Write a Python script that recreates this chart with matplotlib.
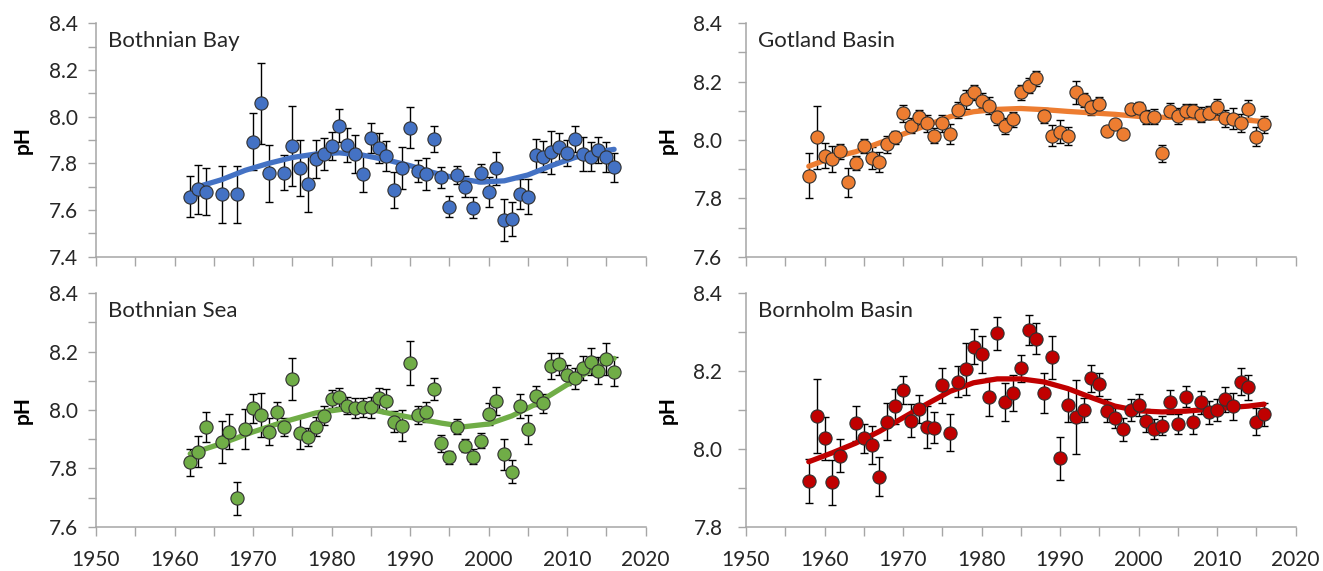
import matplotlib
matplotlib.use("Agg")
import matplotlib.pyplot as plt
from matplotlib.ticker import MultipleLocator, FormatStrFormatter

plt.rcParams["font.family"] = ["Lato", "DejaVu Sans"]

# ---- Bothnian Bay ----
bb_year = [1962, 1963, 1964, 1966, 1968, 1970, 1971, 1972, 1974, 1975, 1976, 1977,
           1978, 1979, 1980, 1981, 1982, 1983, 1984, 1985, 1986, 1987, 1988, 1989,
           1990, 1991, 1992, 1993, 1994, 1995, 1996, 1997, 1998, 1999, 2000, 2001,
           2002, 2003, 2004, 2005, 2006, 2007, 2008, 2009, 2010, 2011, 2012, 2013,
           2014, 2015, 2016]
bb_ph = [7.657, 7.689, 7.679, 7.667, 7.667, 7.893, 8.057, 7.757, 7.760, 7.876, 7.779, 7.711,
         7.819, 7.840, 7.874, 7.961, 7.879, 7.840, 7.753, 7.907, 7.864, 7.833, 7.686, 7.779,
         7.953, 7.767, 7.754, 7.903, 7.740, 7.614, 7.750, 7.700, 7.610, 7.757, 7.679, 7.779,
         7.557, 7.561, 7.669, 7.657, 7.836, 7.829, 7.847, 7.871, 7.846, 7.904, 7.840, 7.829,
         7.857, 7.826, 7.783]
bb_err = [0.089, 0.104, 0.100, 0.122, 0.122, 0.121, 0.175, 0.121, 0.074, 0.171, 0.121, 0.121,
          0.081, 0.070, 0.059, 0.071, 0.074, 0.080, 0.077, 0.064, 0.064, 0.064, 0.076, 0.089,
          0.089, 0.046, 0.068, 0.056, 0.045, 0.044, 0.038, 0.044, 0.046, 0.041, 0.064, 0.071,
          0.089, 0.072, 0.063, 0.074, 0.069, 0.068, 0.091, 0.061, 0.056, 0.057, 0.071, 0.061,
          0.057, 0.064, 0.062]
bb_trend_year = [1963, 1966, 1969, 1972, 1975, 1978, 1981, 1984, 1987, 1990, 1993, 1996,
                 1999, 2002, 2005, 2008, 2011, 2014, 2016]
bb_trend = [7.700, 7.730, 7.770, 7.800, 7.825, 7.840, 7.845, 7.835, 7.815, 7.790, 7.760, 7.735,
            7.720, 7.725, 7.750, 7.790, 7.825, 7.850, 7.860]

# ---- Bothnian Sea ----
bs_year = [1962, 1963, 1964, 1966, 1967, 1968, 1969, 1970, 1971, 1972, 1973, 1974, 1975,
           1976, 1977, 1978, 1979, 1980, 1981, 1982, 1983, 1984, 1985, 1986, 1987, 1988,
           1989, 1990, 1991, 1992, 1993, 1994, 1995, 1996, 1997, 1998, 1999, 2000, 2001,
           2002, 2003, 2004, 2005, 2006, 2007, 2008, 2009, 2010, 2011, 2012, 2013, 2014,
           2015, 2016]
bs_ph = [7.821, 7.857, 7.943, 7.891, 7.926, 7.697, 7.935, 8.006, 7.983, 7.926, 7.992, 7.941, 8.106,
         7.922, 7.909, 7.943, 7.981, 8.038, 8.043, 8.015, 8.006, 8.009, 8.009, 8.040, 8.031, 7.960,
         7.946, 8.162, 7.983, 7.994, 8.072, 7.886, 7.838, 7.943, 7.878, 7.840, 7.895, 7.985, 8.031,
         7.849, 7.789, 8.014, 7.934, 8.048, 8.023, 8.151, 8.157, 8.120, 8.109, 8.143, 8.166, 8.135,
         8.175, 8.131]
bs_err = [0.046, 0.053, 0.051, 0.073, 0.060, 0.056, 0.067, 0.050, 0.075, 0.045, 0.035, 0.030, 0.073,
          0.055, 0.031, 0.033, 0.034, 0.031, 0.034, 0.030, 0.035, 0.033, 0.037, 0.036, 0.040, 0.035,
          0.053, 0.075, 0.030, 0.034, 0.037, 0.029, 0.023, 0.025, 0.023, 0.025, 0.026, 0.038, 0.047,
          0.053, 0.040, 0.040, 0.049, 0.035, 0.033, 0.046, 0.038, 0.034, 0.036, 0.041, 0.045, 0.047,
          0.054, 0.049]
bs_trend_year = [1962, 1966, 1970, 1974, 1978, 1982, 1985, 1988, 1991, 1994, 1997, 2000, 2003,
                 2006, 2009, 2012, 2014, 2016]
bs_trend = [7.850, 7.885, 7.925, 7.960, 7.990, 8.005, 8.002, 7.985, 7.970, 7.955, 7.943, 7.952,
            7.980, 8.020, 8.070, 8.120, 8.150, 8.177]

# ---- Gotland Basin ----
gb_year = list(range(1958, 2017))
gb_ph = [7.877, 8.009, 7.946, 7.934, 7.962, 7.855, 7.922, 7.979, 7.937, 7.926, 7.985, 8.009,
         8.091, 8.049, 8.078, 8.057, 8.015, 8.057, 8.021, 8.103, 8.139, 8.163, 8.135, 8.118,
         8.078, 8.048, 8.071, 8.163, 8.186, 8.211, 8.083, 8.015, 8.029, 8.015, 8.163, 8.137,
         8.112, 8.122, 8.032, 8.055, 8.021, 8.105, 8.111, 8.078, 8.080, 7.954, 8.101, 8.082,
         8.101, 8.101, 8.086, 8.094, 8.112, 8.074, 8.072, 8.059, 8.106, 8.011, 8.054]
gb_err = [0.077, 0.108, 0.043, 0.045, 0.026, 0.050, 0.024, 0.025, 0.038, 0.034, 0.030, 0.023,
          0.029, 0.026, 0.026, 0.030, 0.025, 0.030, 0.033, 0.028, 0.032, 0.025, 0.025, 0.028,
          0.025, 0.029, 0.026, 0.026, 0.025, 0.025, 0.026, 0.035, 0.038, 0.031, 0.040, 0.025,
          0.025, 0.025, 0.015, 0.015, 0.015, 0.020, 0.020, 0.024, 0.025, 0.029, 0.025, 0.027,
          0.022, 0.022, 0.026, 0.023, 0.027, 0.029, 0.036, 0.031, 0.031, 0.032, 0.029]
gb_trend_year = [1958, 1961, 1964, 1967, 1970, 1973, 1976, 1979, 1982, 1985, 1988, 1991, 1994,
                 1997, 2000, 2003, 2006, 2009, 2012, 2016]
gb_trend = [7.910, 7.940, 7.960, 7.990, 8.020, 8.050, 8.080, 8.097, 8.105, 8.108, 8.104, 8.098,
            8.093, 8.088, 8.081, 8.078, 8.077, 8.076, 8.072, 8.063]

# ---- Bornholm Basin ----
bh_year = [1958, 1959, 1960, 1961, 1962] + list(range(1964, 2017))
bh_ph = [7.918, 8.085, 8.027, 7.914, 7.983, 8.066, 8.027, 8.010, 7.929, 8.070, 8.109, 8.151,
         8.073, 8.103, 8.057, 8.055, 8.164, 8.042, 8.173, 8.205, 8.263, 8.243, 8.134, 8.297,
         8.121, 8.143, 8.207, 8.305, 8.283, 8.143, 8.235, 7.976, 8.113, 8.081, 8.100, 8.181,
         8.166, 8.098, 8.079, 8.050, 8.100, 8.113, 8.073, 8.051, 8.060, 8.121, 8.064, 8.134,
         8.068, 8.120, 8.094, 8.100, 8.127, 8.109, 8.173, 8.158, 8.070, 8.089]
bh_err = [0.056, 0.095, 0.056, 0.057, 0.043, 0.045, 0.038, 0.049, 0.049, 0.048, 0.045, 0.036,
          0.043, 0.036, 0.054, 0.041, 0.045, 0.048, 0.040, 0.066, 0.044, 0.047, 0.049, 0.042,
          0.048, 0.046, 0.034, 0.039, 0.040, 0.051, 0.056, 0.055, 0.043, 0.095, 0.032, 0.034,
          0.029, 0.029, 0.025, 0.029, 0.028, 0.028, 0.030, 0.025, 0.025, 0.030, 0.026, 0.027,
          0.030, 0.030, 0.029, 0.029, 0.033, 0.035, 0.034, 0.033, 0.034, 0.029]
bh_trend_year = [1958, 1961, 1964, 1967, 1970, 1973, 1976, 1979, 1982, 1985, 1988, 1991, 1994,
                 1997, 2000, 2003, 2006, 2009, 2012, 2014, 2016]
bh_trend = [7.967, 7.990, 8.015, 8.045, 8.080, 8.115, 8.148, 8.170, 8.180, 8.180, 8.172, 8.155,
            8.132, 8.110, 8.098, 8.095, 8.097, 8.102, 8.107, 8.110, 8.115]

AXIS_GREY = "#a6a6a6"
TEXT = "#262626"

fig = plt.figure(figsize=(13.23, 5.71), dpi=100)


def panel(rect, title, years, ph, err, t_year, t_val, color, ylim, show_x, label_pad, ylab_x):
    ax = fig.add_axes(rect)
    ax.errorbar(years, ph, yerr=err, fmt="none", ecolor="black", elinewidth=1.0,
                capsize=3.2, capthick=1.0, zorder=2)
    ax.plot(t_year, t_val, color=color, lw=3.8, solid_capstyle="round",
            solid_joinstyle="round", zorder=3)
    ax.plot(years, ph, "o", ms=9.5, mfc=color, mec="#303030", mew=0.8, zorder=4)

    ax.set_xlim(1950, 2020)
    ax.set_ylim(*ylim)
    ax.xaxis.set_major_locator(MultipleLocator(10))
    ax.xaxis.set_minor_locator(MultipleLocator(5))
    ax.yaxis.set_major_locator(MultipleLocator(0.2))
    ax.yaxis.set_minor_locator(MultipleLocator(0.1))
    ax.yaxis.set_major_formatter(FormatStrFormatter("%.1f"))

    for s in ("top", "right"):
        ax.spines[s].set_visible(False)
    for s in ("left", "bottom"):
        ax.spines[s].set_color(AXIS_GREY)
        ax.spines[s].set_linewidth(1.1)
        ax.spines[s].set_zorder(1)

    ax.tick_params(axis="both", which="both", color=AXIS_GREY, width=1.0, labelsize=15,
                   labelcolor=TEXT)
    ax.tick_params(axis="y", which="both", length=6, pad=label_pad)
    ax.tick_params(axis="x", which="both", length=6.5, pad=10, labelbottom=show_x)

    ax.text(0.021, 0.897, title, transform=ax.transAxes, fontsize=16, color=TEXT,
            ha="left", va="baseline")
    ax.set_ylabel("pH", fontsize=15, fontweight="bold", color="black")
    ax.yaxis.set_label_coords(ylab_x, 0.5)
    ax.patch.set_alpha(0)
    return ax


W = 549.5 / 1323
H = 233.4 / 571
top_b = 1 - 256.7 / 571
bot_b = 1 - 526.7 / 571
left_l = 96 / 1323
right_l = 746 / 1323

panel([left_l, top_b, W, H], "Bothnian Bay", bb_year, bb_ph, bb_err, bb_trend_year, bb_trend,
      "#4472c4", (7.4, 8.4), False, 7, -0.115)
panel([left_l, bot_b, W, H], "Bothnian Sea", bs_year, bs_ph, bs_err, bs_trend_year, bs_trend,
      "#70ad47", (7.6, 8.4), True, 7, -0.115)
panel([right_l, top_b, W, H], "Gotland Basin", gb_year, gb_ph, gb_err, gb_trend_year, gb_trend,
      "#ed7d31", (7.6, 8.4), False, 11, -0.124)
panel([right_l, bot_b, W, H], "Bornholm Basin", bh_year, bh_ph, bh_err, bh_trend_year, bh_trend,
      "#c00000", (7.8, 8.4), True, 11, -0.124)

fig.savefig("out.png", dpi=100, facecolor="white")
